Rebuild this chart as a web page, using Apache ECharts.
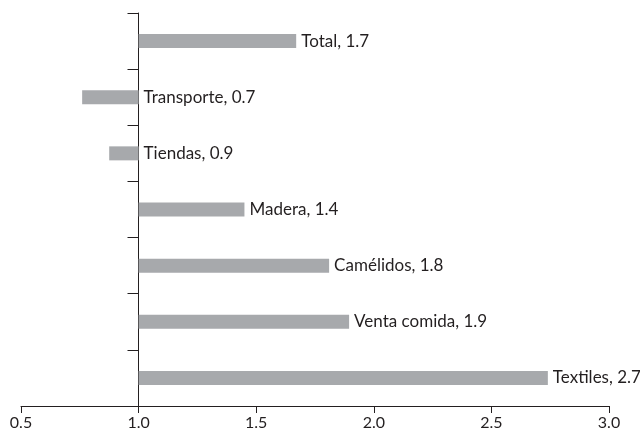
<!DOCTYPE html>
<html>
<head>
<meta charset="utf-8">
<script src="https://cdn.jsdelivr.net/npm/echarts@6/dist/echarts.min.js"></script>
<style>
  html, body { margin: 0; padding: 0; background: #fff; }
  #main { width: 640px; height: 438px; }
</style>
</head>
<body>
<div id="main"></div>
<script>
var categories = ['Total', 'Transporte', 'Tiendas', 'Madera', 'Camélidos', 'Venta comida', 'Textiles'];
var values = [1.67, 0.76, 0.875, 1.45, 1.81, 1.895, 2.74];
var shownValues = ['1.7', '0.7', '0.9', '1.4', '1.8', '1.9', '2.7'];
var baseline = 1.0;
var xTicks = [0.5, 1.0, 1.5, 2.0, 2.5, 3.0];

var myChart = echarts.init(document.getElementById('main'));

// bars start at the baseline: an invisible part up to the lower end, then the visible part
var hidden = values.map(function (v) { return Math.min(v, baseline); });
var shown = values.map(function (v) { return Math.abs(v - baseline); });

var font = 'Lato, "Open Sans", sans-serif';

var option = {
    animation: false,
    grid: { left: 21, right: 31, top: 13, bottom: 32 },
    xAxis: {
        type: 'value',
        min: xTicks[0],
        max: xTicks[xTicks.length - 1],
        interval: 0.5,
        splitLine: { show: false },
        axisLine: { show: true, lineStyle: { color: '#231f20', width: 1 } },
        axisTick: { show: true, length: 7, lineStyle: { color: '#231f20' } },
        axisLabel: {
            color: '#231f20', fontSize: 16, fontFamily: font, margin: 9,
            formatter: function (v) { return v.toFixed(1); }
        }
    },
    yAxis: {
        type: 'category',
        data: categories,
        inverse: true,
        offset: -117.5,
        axisLine: { show: true, lineStyle: { color: '#231f20', width: 1 } },
        axisTick: { show: true, length: 11, lineStyle: { color: '#231f20' } },
        axisLabel: { show: false }
    },
    series: [
        {
            type: 'bar',
            stack: 's',
            barWidth: 14,
            data: hidden,
            itemStyle: { color: 'rgba(0,0,0,0)' },
            silent: true
        },
        {
            type: 'bar',
            stack: 's',
            barWidth: 14,
            data: shown,
            itemStyle: { color: '#a7a9ac' },
            label: {
                show: true,
                position: 'right',
                distance: 5,
                color: '#231f20',
                fontSize: 17,
                fontFamily: font,
                formatter: function (p) {
                    return categories[p.dataIndex] + ', ' + shownValues[p.dataIndex];
                }
            }
        }
    ]
};

myChart.setOption(option);
</script>
</body>
</html>
